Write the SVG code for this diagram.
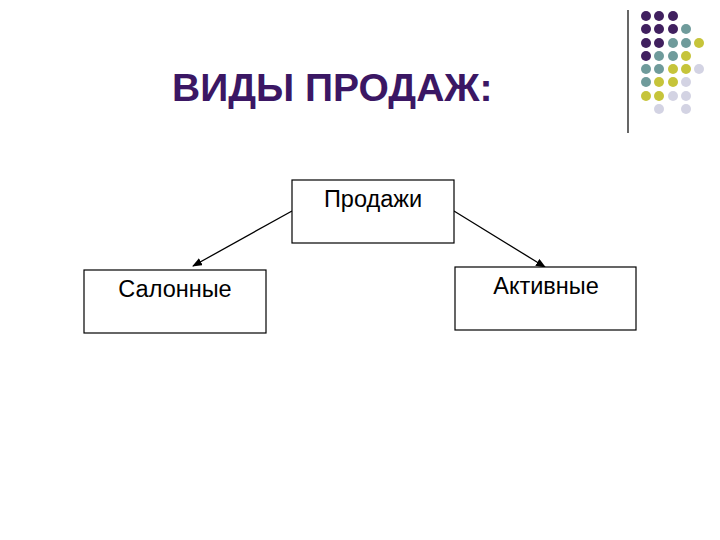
<svg xmlns="http://www.w3.org/2000/svg" width="720" height="540" viewBox="0 0 720 540">
  <style>
    .box { fill: #ffffff; stroke: #000000; stroke-width: 1.2; }
    .lbl { font-family: "Liberation Sans", Arial, sans-serif; font-size: 23.5px; fill: #000000; text-anchor: middle; }
    .title { font-family: "Liberation Sans", Arial, sans-serif; font-size: 39px; font-weight: bold; fill: #3b1764; }
    .conn { stroke: #000000; stroke-width: 1.3; fill: none; marker-end: url(#ah); }
    .p { fill: #40205f; }
    .t { fill: #6f9b9b; }
    .y { fill: #c6c43a; }
    .l { fill: #d3d3e3; }
  </style>
  <defs>
    <marker id="ah" markerWidth="10" markerHeight="8" refX="9" refY="4" orient="auto" markerUnits="userSpaceOnUse">
      <path d="M0,0 L10,4 L0,8 Z" fill="#000000"/>
    </marker>
  </defs>
  <rect x="0" y="0" width="720" height="540" fill="#ffffff"/>

  <g id="decor">
    <line x1="628" y1="10" x2="628" y2="133" stroke="#000000" stroke-width="1.2"/>
    <g id="dots">
      <circle class="p" cx="646" cy="16" r="5"/><circle class="p" cx="659" cy="16" r="5"/><circle class="p" cx="673" cy="16" r="5"/>
      <circle class="p" cx="646" cy="29" r="5"/><circle class="p" cx="659" cy="29" r="5"/><circle class="p" cx="673" cy="29" r="5"/><circle class="t" cx="686" cy="29" r="5"/>
      <circle class="p" cx="646" cy="43" r="5"/><circle class="p" cx="659" cy="43" r="5"/><circle class="t" cx="673" cy="43" r="5"/><circle class="t" cx="686" cy="43" r="5"/><circle class="y" cx="699" cy="43" r="5"/>
      <circle class="p" cx="646" cy="56" r="5"/><circle class="t" cx="659" cy="56" r="5"/><circle class="t" cx="673" cy="56" r="5"/><circle class="y" cx="686" cy="56" r="5"/>
      <circle class="t" cx="646" cy="69" r="5"/><circle class="t" cx="659" cy="69" r="5"/><circle class="y" cx="673" cy="69" r="5"/><circle class="y" cx="686" cy="69" r="5"/><circle class="l" cx="699" cy="69" r="5"/>
      <circle class="t" cx="646" cy="82" r="5"/><circle class="y" cx="659" cy="82" r="5"/><circle class="y" cx="673" cy="82" r="5"/><circle class="l" cx="686" cy="82" r="5"/>
      <circle class="y" cx="646" cy="96" r="5"/><circle class="y" cx="659" cy="96" r="5"/><circle class="l" cx="673" cy="96" r="5"/><circle class="l" cx="686" cy="96" r="5"/>
      <circle class="l" cx="659" cy="109" r="5"/><circle class="l" cx="686" cy="109" r="5"/>
    </g>
  </g>

  <g id="title">
    <text class="title" x="172" y="101">ВИДЫ ПРОДАЖ:</text>
  </g>

  <g id="connectors">
    <line class="conn" x1="292" y1="211" x2="193" y2="266"/>
    <line class="conn" x1="454" y1="211" x2="545" y2="267"/>
  </g>

  <g id="node-prodazhi">
    <rect class="box" x="292" y="180" width="162" height="63"/>
    <text class="lbl" x="373" y="207">Продажи</text>
  </g>
  <g id="node-salonnye">
    <rect class="box" x="84" y="270" width="182" height="63"/>
    <text class="lbl" x="175" y="297">Салонные</text>
  </g>
  <g id="node-aktivnye">
    <rect class="box" x="455" y="267" width="181" height="63"/>
    <text class="lbl" x="546" y="294">Активные</text>
  </g>
</svg>
